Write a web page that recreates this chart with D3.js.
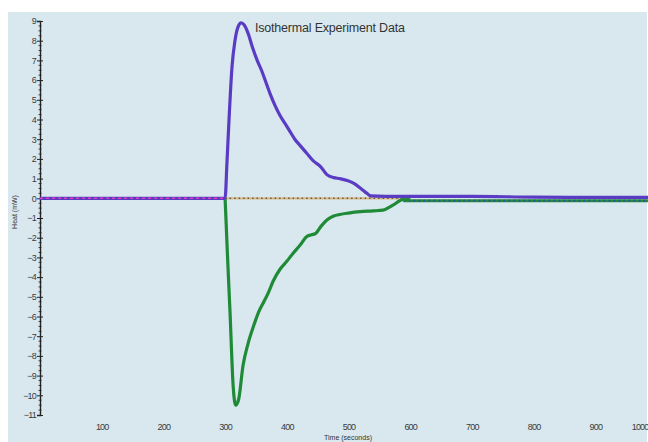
<!DOCTYPE html>
<html><head><meta charset="utf-8">
<script src="https://cdn.jsdelivr.net/npm/d3@7"></script>
<style>html,body{margin:0;padding:0;background:#fff;}svg{display:block;}</style>
</head><body>
<script>
// ---- data ----
const title = "Isothermal Experiment Data";
const xLabel = "Time (seconds)";
const yLabel = "Heat (mW)";
const xTicks = [100,200,300,400,500,600,700,800,900,1000];
const yTicks = [9,8,7,6,5,4,3,2,1,0,-1,-2,-3,-4,-5,-6,-7,-8,-9,-10,-11];

const sampleTime = [0,100,200,300,303,307,311,316,321,326,331,337,345,352,359,366,373,381,389,397,405,413,421,432,443,455,465,476,486,498,508,520,530,536,560,600,700,800,900,1000];
const sampleHeat = [0,0,0,0,1.8,4.4,6.6,8.0,8.7,8.9,8.8,8.4,7.6,7.0,6.5,5.9,5.3,4.7,4.2,3.8,3.4,3.0,2.7,2.3,1.9,1.6,1.2,1.05,1.0,0.9,0.77,0.5,0.25,0.12,0.1,0.1,0.1,0.06,0.05,0.05];

const referenceTime = [300,304,308,313,317,322,329,337,346,354,362,370,378,389,400,410,421,432,440,446,456,465,476,486,500,519,540,556,572,589,600,700,800,900,1000];
const referenceHeat = [0,-3,-5.8,-9.5,-10.5,-10.2,-8.5,-7.4,-6.5,-5.8,-5.3,-4.8,-4.2,-3.6,-3.2,-2.8,-2.4,-1.95,-1.85,-1.8,-1.4,-1.1,-0.9,-0.82,-0.75,-0.68,-0.64,-0.6,-0.35,-0.05,-0.05,-0.05,-0.05,-0.05,-0.05];

const controlTime = [0,300];
const controlHeat = [0,0];
const baselineTime = [300,600];
const baselineHeat = [0,0];

// ---- drawing ----
const W = 648, H = 442;
const FONT = "Liberation Sans, Arial, sans-serif";
const svg = d3.select("body").append("svg").attr("width", W).attr("height", H);
svg.append("rect").attr("x", 8).attr("y", 12).attr("width", W - 9).attr("height", H - 12).attr("fill", "#d9e8ef");

const x = d3.scaleLinear().domain([0, 1000]).range([40, 657]);
const y = d3.scaleLinear().domain([-11, 9]).range([415, 21]);

const zip = (t, v) => t.map((d, i) => ({t: d, v: v[i]}));
const line = d3.line().x(d => x(d.t)).y(d => y(d.v)).curve(d3.curveMonotoneX);

// y axis
const yAxis = d3.axisLeft(y).tickValues(yTicks).tickSize(3).tickFormat(d3.format("d"));
const gy = svg.append("g").attr("transform", `translate(${x(0)},0)`).call(yAxis);
gy.select(".domain").attr("stroke", "#222").attr("stroke-width", 1.4);
gy.selectAll(".tick line").attr("stroke", "#222").attr("x2", -3).attr("x1", 3);
gy.selectAll(".tick text").attr("x", -4).attr("font-family", FONT)
  .attr("font-size", 9).attr("fill", "#3a3a3a").attr("letter-spacing", -0.8);
// minor ticks
const minor = d3.range(-11, 9.001, 0.25).filter(v => Math.abs(v - Math.round(v)) > 1e-6);
svg.append("g").selectAll("line").data(minor).join("line")
  .attr("x1", x(0) - 1.5).attr("x2", x(0) + 1.5)
  .attr("y1", d => y(d)).attr("y2", d => y(d))
  .attr("stroke", "#222").attr("stroke-width", 0.8);

// x axis labels (no line)
const xAxis = d3.axisBottom(x).tickValues(xTicks).tickSize(0).tickFormat(d3.format("d"));
const gx = svg.append("g").attr("transform", `translate(0,${y(-11) + 6})`).call(xAxis);
gx.select(".domain").remove();
gx.selectAll(".tick text").attr("font-family", FONT)
  .attr("font-size", 9).attr("fill", "#3a3a3a").attr("letter-spacing", -0.8);
gx.selectAll(".tick").filter(d => d === 1000).select("text").attr("text-anchor", "end").attr("x", -9);

// series
const sample = zip(sampleTime, sampleHeat);
const reference = zip(referenceTime, referenceHeat);
const refSolid = reference.filter(d => d.t <= 600);
const refTail = reference.filter(d => d.t >= 589);

svg.append("path").attr("d", line(zip(baselineTime, baselineHeat)))
  .attr("fill", "none").attr("stroke", "#d8b98a").attr("stroke-width", 2.2);
svg.append("path").attr("d", line(zip(baselineTime, baselineHeat)))
  .attr("fill", "none").attr("stroke", "#6a5a40").attr("stroke-width", 1.6).attr("stroke-dasharray", "1.5,3");

svg.append("path").attr("d", line(refTail)).attr("fill", "none")
  .attr("stroke", "#2a8a3a").attr("stroke-width", 3).attr("transform", "translate(0,1.5)");
svg.append("path").attr("d", line(refTail)).attr("fill", "none")
  .attr("stroke", "#1c5aa0").attr("stroke-width", 2).attr("stroke-dasharray", "2,3").attr("transform", "translate(0,1.5)");

svg.append("path").attr("d", line(refSolid)).attr("fill", "none")
  .attr("stroke", "#1f8b36").attr("stroke-width", 3.2).attr("stroke-linejoin", "round");

svg.append("path").attr("d", line(sample)).attr("fill", "none")
  .attr("stroke", "#5a3cc4").attr("stroke-width", 3.2).attr("stroke-linejoin", "round");

svg.append("path").attr("d", line(zip(controlTime, controlHeat)))
  .attr("fill", "none").attr("stroke", "#d040c0").attr("stroke-width", 1.6).attr("stroke-dasharray", "3,3");

// titles
svg.append("text").attr("x", 255).attr("y", 32).text(title)
  .attr("font-family", FONT).attr("font-size", 12.5).attr("fill", "#333").attr("letter-spacing", -0.2);
svg.append("text").attr("x", 348).attr("y", 440).attr("text-anchor", "middle").text(xLabel)
  .attr("font-family", FONT).attr("font-size", 7).attr("fill", "#333");
svg.append("text").attr("transform", "translate(17,212) rotate(-90)").attr("text-anchor", "middle").text(yLabel)
  .attr("font-family", FONT).attr("font-size", 7).attr("fill", "#333");
</script>
</body></html>
